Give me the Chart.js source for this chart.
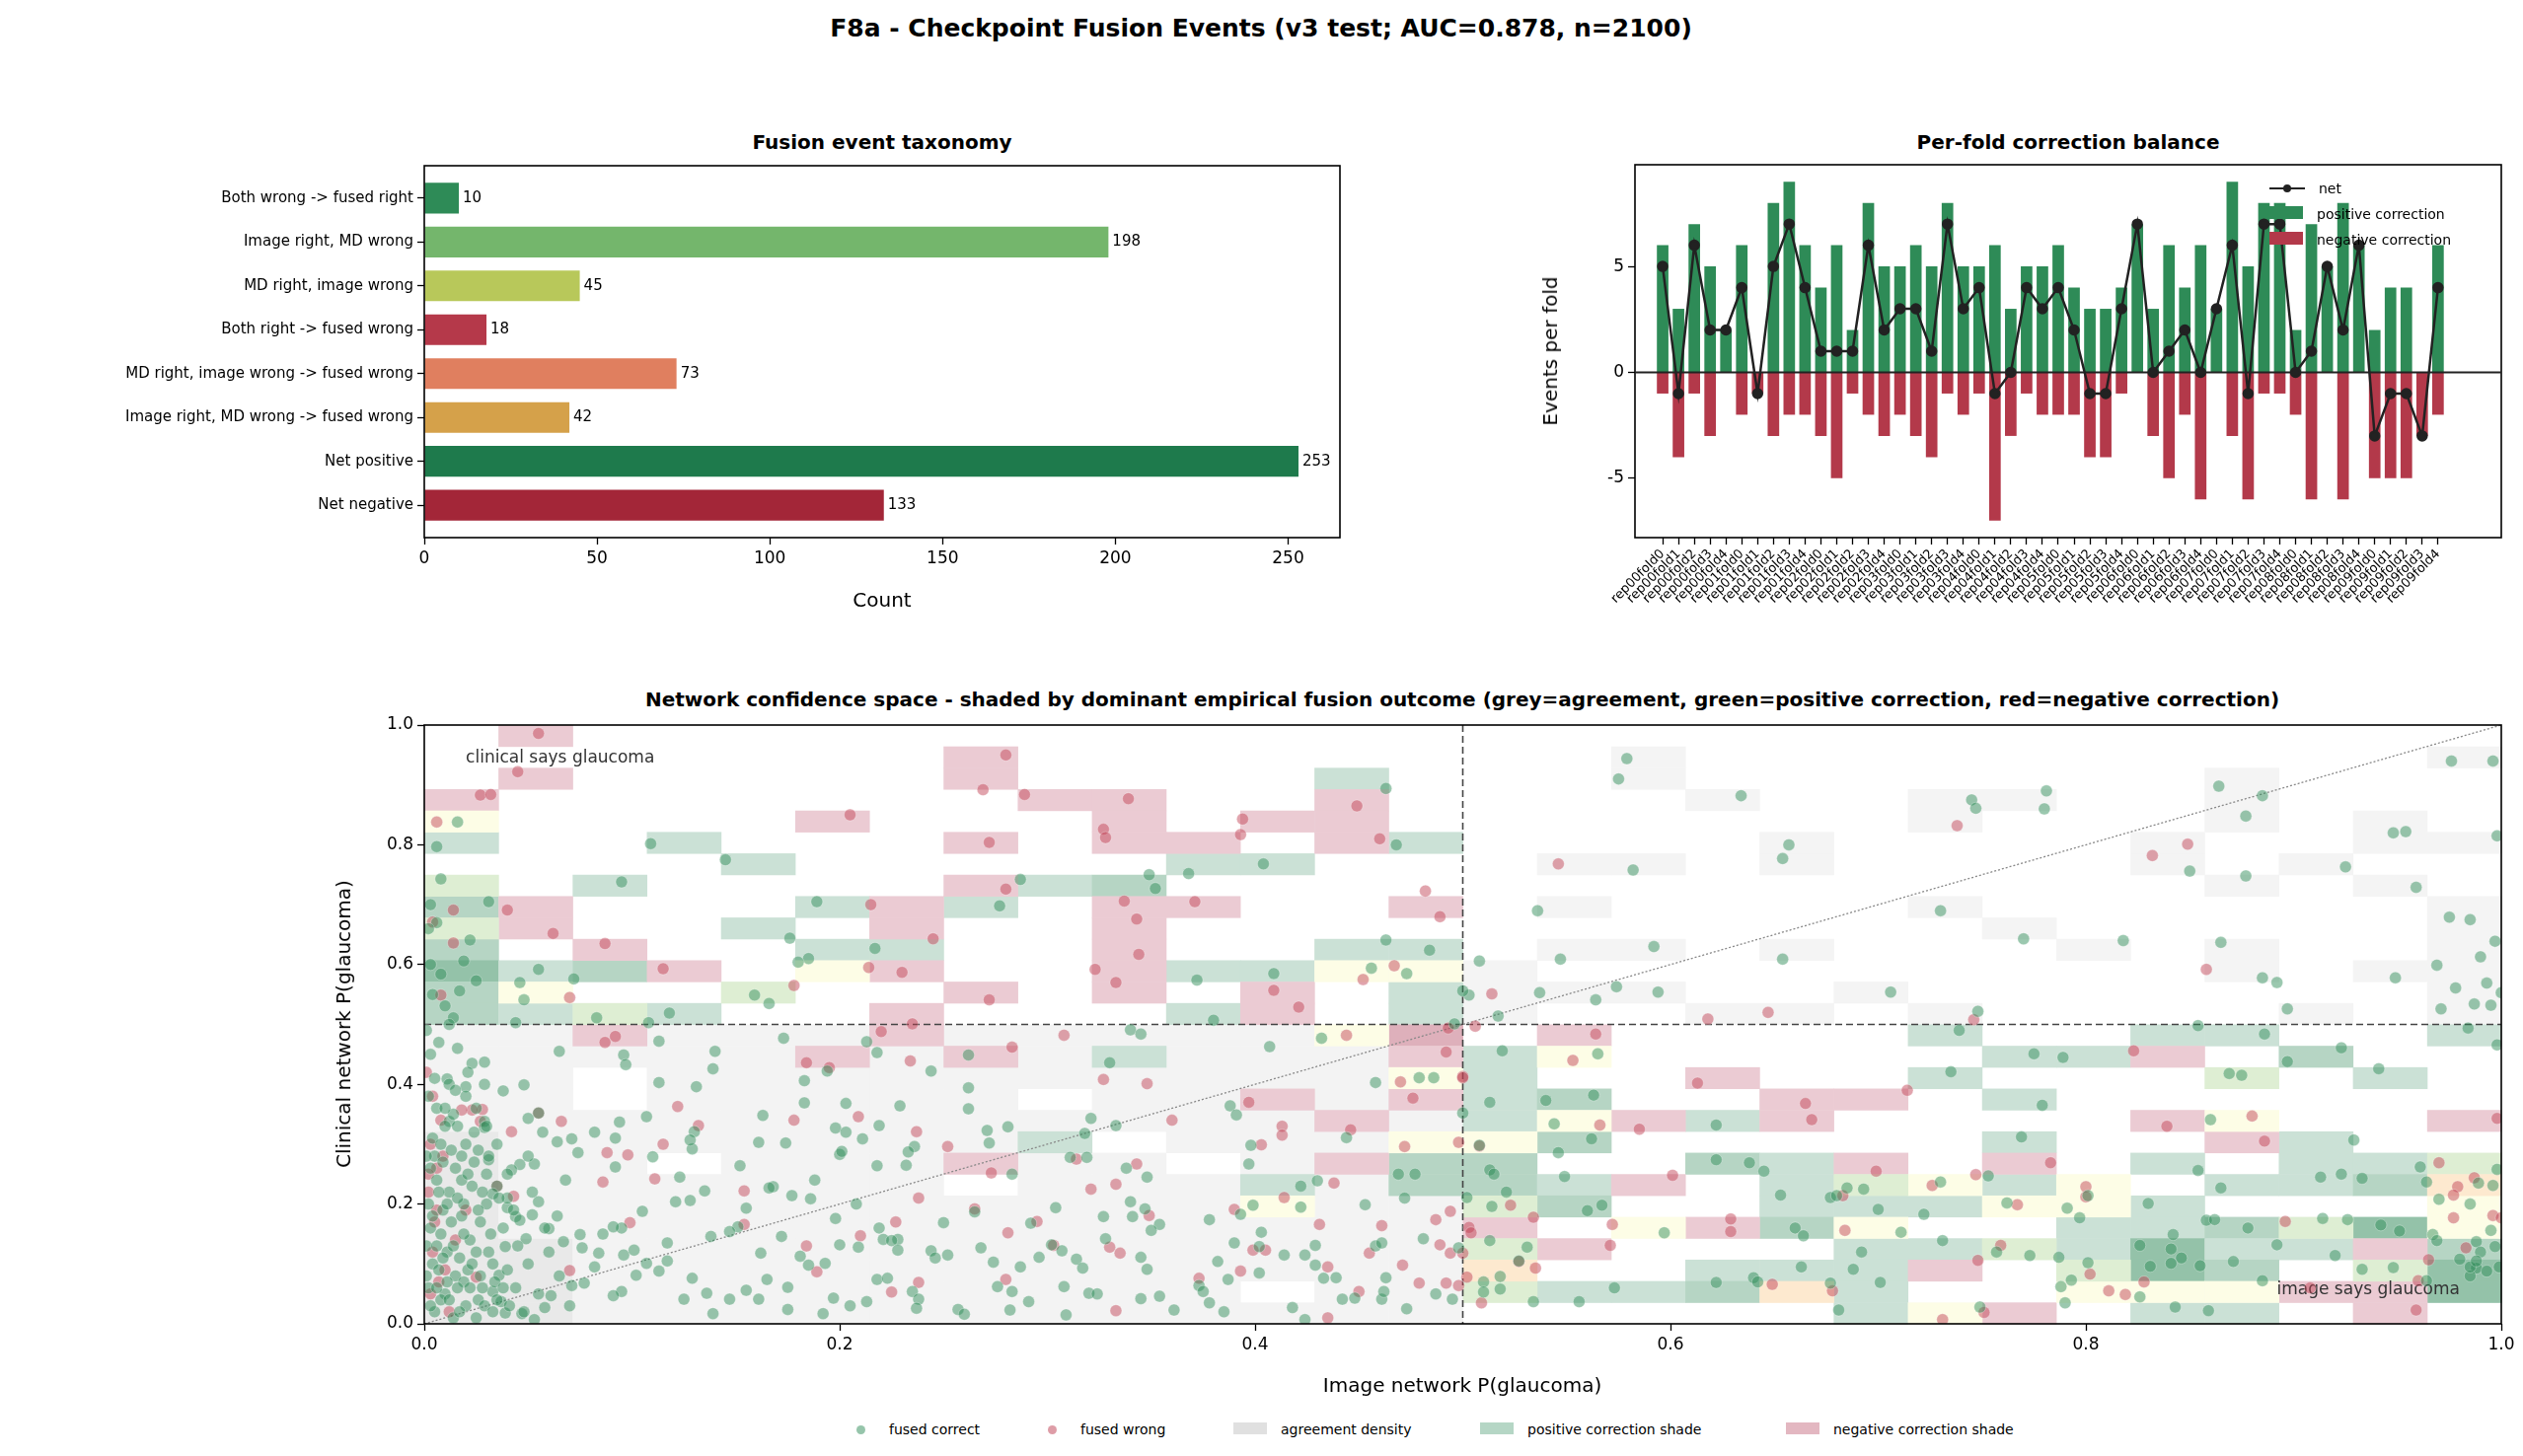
<!DOCTYPE html>
<html>
<head>
<meta charset="utf-8">
<script src="https://cdn.jsdelivr.net/npm/chart.js@4.4.1/dist/chart.umd.min.js"></script>
<style>
  body { margin: 0; background: #fff; font-family: "DejaVu Sans", sans-serif; }
  #wrap { position: relative; width: 2557px; height: 1476px; }
  .abs { position: absolute; }
  .ttl { position: absolute; font-weight: bold; color: #000; white-space: nowrap; transform: translateX(-50%); }
  .ax { position: absolute; font-size: 20px; color: #000; white-space: nowrap; transform: translate(-50%, -50%); }
  .axv { position: absolute; font-size: 20px; color: #000; white-space: nowrap; transform: translate(-50%, -50%) rotate(-90deg); }
  .lg { position: absolute; font-size: 14px; color: #000; white-space: nowrap; }
</style>
</head>
<body>
<div id="wrap">
  <div class="ttl" style="left:1278px; top:14px; font-size:25px;">F8a - Checkpoint Fusion Events (v3 test; AUC=0.878, n=2100)</div>
  <div class="ttl" style="left:894px; top:132px; font-size:20px;">Fusion event taxonomy</div>
  <div class="ttl" style="left:2096px; top:132px; font-size:20px;">Per-fold correction balance</div>
  <div class="ttl" style="left:1482px; top:697px; font-size:20px;">Network confidence space - shaded by dominant empirical fusion outcome (grey=agreement, green=positive correction, red=negative correction)</div>
  <canvas id="c1" class="abs" style="left:0; top:120px;"></canvas>
  <canvas id="c2" class="abs" style="left:1500px; top:120px;"></canvas>
  <canvas id="c3" class="abs" style="left:0; top:690px;"></canvas>
  <div class="ax" style="left:894px; top:608px;">Count</div>
  <div class="axv" style="left:1571px; top:356px;">Events per fold</div>
  <div class="ax" style="left:1482px; top:1404px;">Image network P(glaucoma)</div>
  <div class="axv" style="left:348px; top:1038px;">Clinical network P(glaucoma)</div>
  <div class="lg" style="left:2300px; top:183px; font-size:14px;">
    <div style="height:26px;"><span style="display:inline-block;width:36px;border-top:2px solid #222;position:relative;top:-4px;"></span><span style="display:inline-block;width:8px;height:8px;border-radius:4px;background:#222;margin-left:-22px;position:relative;top:-1px;"></span><span style="margin-left:28px;">net</span></div>
    <div style="height:26px;"><span style="display:inline-block;width:34px;height:13px;background:#2e8b57;"></span><span style="margin-left:14px;">positive correction</span></div>
    <div style="height:26px;"><span style="display:inline-block;width:34px;height:13px;background:#b3394a;"></span><span style="margin-left:14px;">negative correction</span></div>
  </div>
  <div class="lg" style="left:868px; top:1441px;"><span style="display:inline-block;width:9px;height:9px;border-radius:5px;background:rgba(46,139,87,0.5);"></span><span style="margin-left:24px;">fused correct</span></div>
  <div class="lg" style="left:1062px; top:1441px;"><span style="display:inline-block;width:9px;height:9px;border-radius:5px;background:rgba(190,60,80,0.5);"></span><span style="margin-left:24px;">fused wrong</span></div>
  <div class="lg" style="left:1250px; top:1441px;"><span style="display:inline-block;width:34px;height:12px;background:#e0e0e0;"></span><span style="margin-left:14px;">agreement density</span></div>
  <div class="lg" style="left:1500px; top:1441px;"><span style="display:inline-block;width:34px;height:12px;background:#b5d6c5;"></span><span style="margin-left:14px;">positive correction shade</span></div>
  <div class="lg" style="left:1810px; top:1441px;"><span style="display:inline-block;width:34px;height:12px;background:#e3b7c1;"></span><span style="margin-left:14px;">negative correction shade</span></div>
</div>
<script>
// ---- data ----
const taxonomyLabels = ['Both wrong -> fused right', 'Image right, MD wrong', 'MD right, image wrong', 'Both right -> fused wrong',
  'MD right, image wrong -> fused wrong', 'Image right, MD wrong -> fused wrong', 'Net positive', 'Net negative'];
const taxonomyCounts = [10, 198, 45, 18, 73, 42, 253, 133];
const taxonomyColors = ['#2e8b57', '#74b66c', '#b8c85a', '#b5394a', '#e07f5f', '#d5a14a', '#1e7a4c', '#a32638'];
const countTicks = [0, 50, 100, 150, 200, 250];

const foldLabels = [];
for (let r = 0; r < 10; r++) for (let f = 0; f < 5; f++) foldLabels.push('rep0' + r + 'fold' + f);
const foldPositive = [6,3,7,5,2,6,0,8,9,6,4,6,2,8,5,5,6,5,8,5,5,6,3,5,5,
                      6,4,3,3,4,7,3,6,4,6,3,9,5,8,8,2,7,5,8,6,2,4,4,0,6];
const foldNegative = [-1,-4,-1,-3,0,-2,-1,-3,-2,-2,-3,-5,-1,-2,-3,-2,-3,-4,-1,-2,-1,-7,-3,-1,-2,
                      -2,-2,-4,-4,-1,0,-3,-5,-2,-6,0,-3,-6,-1,-1,-2,-6,0,-6,0,-5,-5,-5,-3,-2];
const foldNet = [5,-1,6,2,2,4,-1,5,7,4,1,1,1,6,2,3,3,1,7,3,4,-1,0,4,3,
                 4,2,-1,-1,3,7,0,1,2,0,3,6,-1,7,7,0,1,5,2,6,-3,-1,-1,-3,4];
const foldTicks = [-5, 0, 5];

// heatmap cells: [col, row, level] on a 28 x 28 grid of (image P, clinical P)
const gridBins = 28;
const posCells = [
  [20,13,1],[23,13,1],[24,13,1],[27,13,1],[14,12,1],[21,12,1],[22,12,1],[25,12,2],[14,11,1],[20,11,1],[26,11,1],
  [14,10,1],[15,10,2],[21,10,1],[14,9,1],[17,9,1],[15,8,2],[21,8,1],[25,8,1],[14,7,2],[17,7,2],[18,7,1],[23,7,1],[25,7,1],[26,7,1],
  [14,6,2],[15,6,1],[18,6,1],[21,6,1],[24,6,1],[25,6,1],[26,6,2],[15,5,2],[18,5,1],[19,5,1],[20,5,1],[23,5,1],
  [18,4,2],[22,4,1],[23,4,1],[24,4,2],[26,4,3],[19,3,1],[20,3,1],[22,3,1],[23,3,3],[24,3,1],[25,3,1],[27,3,2],
  [17,2,1],[18,2,1],[19,2,1],[23,2,3],[24,2,2],[27,2,3],[15,1,1],[16,1,1],[17,1,2],[19,1,1],[27,1,3],[19,0,1],[23,0,1],[24,0,1],
  [12,25,1],[0,22,1],[3,22,1],[13,22,1],[4,21,1],[10,21,1],[11,21,1],[2,20,1],[8,20,1],[9,20,2],[0,19,2],[5,19,1],[7,19,1],
  [4,18,1],[0,17,2],[5,17,1],[6,17,1],[12,17,1],[13,17,1],[0,16,3],[1,16,1],[2,16,2],[10,16,1],[11,16,1],[0,15,2],[13,15,1],
  [0,14,2],[1,14,1],[3,14,1],[10,14,1],[13,14,1],[9,12,1],[8,8,1],[13,7,2],[11,6,1],[13,6,2]
];
const negCells = [
  [15,13],[23,12],[17,11],[18,10],[19,10],[16,9],[18,9],[23,9],[27,9],[24,8],[19,7],[21,7],[16,6],[14,4],[17,4],[15,3],[26,3],
  [20,2],[25,1],[26,1],[21,0],[26,0],
  [1,27],[1,25],[7,25],[7,26],[0,24],[8,24],[9,24],[12,24],[5,23],[9,23],[11,23],[12,23],[7,22],[9,22],[10,22],[12,22],
  [7,20],[1,19],[6,19],[9,19],[10,19],[13,19],[1,18],[6,18],[9,18],[2,17],[9,17],[3,16],[6,16],[9,16],[7,15],[9,15],[11,15],
  [6,14],[11,14],[2,13],[6,13],[13,13],[5,12],[7,12],[13,12],[11,10],[13,10],[12,9],[7,7],[12,7]
];
const mixCells = [
  [15,12],[15,9],[24,9],[14,8],[20,6],[22,6],[21,5],[22,5],[27,5],[16,4],[19,4],[27,4],[22,1],[23,1],[24,1],[20,0],
  [0,23],[5,16],[12,16],[13,16],[1,15],[12,13],[13,11],[13,8],[11,5]
];
const lightGreenCells = [[24,11],[27,7],[19,6],[14,5],[25,4],[14,3],[21,3],[22,2],[26,2],[14,1],[0,20],[0,18],[4,15],[2,14]];
const orangeCells = [[27,6],[14,2],[18,1]];
const agreeCells = [
  [16,26],[27,26],[16,25],[24,25],[17,24],[20,24],[21,24],[24,24],[20,23],[24,23],[26,23],[18,22],[23,22],[26,22],[27,22],
  [15,21],[16,21],[18,21],[23,21],[25,21],[24,20],[26,20],[15,19],[20,19],[27,19],[21,18],[27,18],
  [15,17],[16,17],[18,17],[22,17],[24,17],[27,17],[14,16],[24,16],[26,16],[27,16],[14,15],[15,15],[16,15],[19,15],[27,15],
  [14,14],[17,14],[18,14],[20,14],[25,14],[27,14]
];
const agreeBlockCols = 14, agreeBlockRows = 14;   // lower-left agreement block
const blankCells = [[2,10],[2,11],[3,7],[7,6],[10,7],[8,10],[11,1],[9,8]];
const probTicks = [0, 0.2, 0.4, 0.6, 0.8, 1.0];

const fusedCorrect = [
  [.579,.944],[.575,.91],[.634,.882],[.745,.875],[.747,.861],[.781,.89],[.780,.86],[.864,.898],[.885,.882],[.877,.848],[.976,.94],[.996,.94],
  [.657,.80],[.654,.777],[.582,.758],[.850,.756],[.877,.748],[.925,.763],[.948,.82],[.954,.822],[.998,.815],[.959,.729],[.536,.69],[.730,.69],
  [.770,.643],[.818,.64],[.865,.637],[.592,.63],[.547,.609],[.654,.609],[.508,.606],[.975,.679],[.985,.675],[.997,.639],[.990,.613],[.969,.599],
  [.949,.578],[.885,.578],[.892,.570],[.978,.561],[.993,.569],[1.0,.553],[.503,.549],[.537,.553],[.574,.563],[.594,.554],[.564,.541],[.706,.554],
  [.517,.514],[.748,.522],[.897,.526],[.971,.526],[.987,.534],[.995,.532],[.854,.498],[.886,.484],[.984,.494],[.739,.490],[.998,.466],[.519,.456],
  [.565,.451],[.775,.451],[.789,.445],[.923,.461],[.897,.438],[.941,.426],[.735,.421],[.869,.418],[.875,.415],[.513,.370],[.540,.373],[.563,.382],
  [.779,.365],[.50,.352],[.544,.334],[.622,.332],[.860,.341],[.562,.309],[.769,.312],[.929,.307],[.508,.298],[.546,.286],[.622,.274],[.638,.269],
  [.513,.257],[.515,.25],[.549,.246],[.645,.255],[.854,.256],[.961,.262],[.913,.245],[.923,.250],[.933,.243],[.964,.237],[.996,.231],[.998,.258],
  [.753,.247],[.730,.237],[.685,.227],[.693,.225],[.865,.227],[.521,.22],[.653,.215],[.677,.211],[.680,.214],[.801,.214],[.989,.235],[.502,.211],
  [.514,.196],[.567,.198],[.560,.189],[.700,.191],[.722,.183],[.762,.202],[.791,.193],[.830,.201],[.985,.20],[.970,.208],[.797,.177],[.858,.173],
  [.862,.174],[.878,.160],[.914,.176],[.926,.174],[.942,.165],[.951,.155],[.967,.149],[.995,.156],[.597,.152],[.660,.160],[.664,.147],[.711,.153],
  [.513,.139],[.531,.128],[.731,.139],[.842,.149],[.969,.139],[.988,.137],[.892,.132],[.826,.131],[.841,.125],[.846,.110],[.997,.129],[.692,.120],
  [.757,.120],[.773,.114],[.787,.111],[.920,.114],[.990,.120],[.980,.108],[.871,.104],[.801,.102],[.527,.105],[.831,.096],[.841,.101],[.855,.097],
  [.933,.091],[.948,.094],[.988,.093],[.993,.088],[.985,.080],[.999,.095],[.663,.095],[.688,.091],[.518,.079],[.510,.070],[.793,.073],[.885,.072],
  [.964,.072],[.622,.069],[.640,.077],[.642,.070],[.677,.068],[.701,.069],[.573,.060],[.510,.053],[.518,.058],[.788,.062],[.826,.045],[.534,.037],
  [.556,.037],[.790,.035],[.681,.023],[.749,.028],[.843,.028],[.859,.022],[.985,.095],[.988,.105],
  [.006,.797],[.016,.838],[.008,.743],[.109,.802],[.145,.775],[.095,.738],[.189,.705],[.368,.752],[.404,.768],[.349,.750],[.352,.727],[.287,.742],
  [.277,.698],[.463,.894],[.468,.800],[.463,.641],[.484,.624],[.456,.594],[.473,.585],[.409,.585],[.372,.574],[.5,.556],[.380,.507],[.496,.501],
  [.217,.627],[.185,.610],[.180,.604],[.176,.644],[.159,.549],[.166,.535],[.118,.519],[.108,.503],[.055,.592],[.046,.570],[.048,.541],[.044,.503],
  [.072,.576],[.083,.511],[.031,.705],[.022,.641],[.019,.606],[.025,.573],[.017,.556],[.010,.531],[.014,.511],[.008,.584],[.006,.670],[.003,.700],
  [.113,.472],[.065,.455],[.096,.449],[.097,.433],[.140,.455],[.139,.426],[.173,.477],[.213,.471],[.218,.453],[.194,.422],[.244,.422],[.262,.449],
  [.330,.436],[.340,.491],[.345,.484],[.407,.463],[.432,.477],[.458,.403],[.486,.411],[.479,.411],[.113,.403],[.131,.396],[.048,.399],[.038,.389],
  [.020,.396],[.029,.400],[.011,.409],[.029,.437],[.023,.435],[.183,.406],[.183,.369],[.203,.368],[.229,.364],[.262,.394],[.262,.359],[.321,.343],
  [.333,.331],[.318,.318],[.388,.364],[.391,.349],[.281,.329],[.271,.323],[.272,.302],[.219,.331],[.198,.327],[.211,.309],[.203,.320],[.163,.348],
  [.174,.302],[.161,.303],[.129,.292],[.130,.321],[.128,.307],[.107,.346],[.082,.320],[.092,.310],[.071,.309],[.064,.304],[.094,.337],[.050,.343],
  [.055,.352],[.012,.338],[.029,.338],[.029,.328],[.031,.274],[.046,.266],[.053,.267],[.074,.286],[.092,.262],[.110,.279],[.123,.245],[.135,.222],
  [.152,.264],[.168,.229],[.188,.240],[.200,.283],[.201,.288],[.218,.264],[.232,.265],[.236,.296],[.233,.287],[.283,.250],[.311,.278],[.319,.278],
  [.338,.260],[.348,.245],[.397,.267],[.398,.298],[.444,.311],[.469,.250],[.477,.250],[.472,.210],[.430,.239],[.422,.230],[.453,.199],[.422,.195],
  [.399,.198],[.378,.174],[.393,.183],[.403,.153],[.340,.204],[.347,.192],[.327,.179],[.341,.179],[.354,.166],[.350,.156],[.304,.194],[.292,.168],
  [.265,.187],[.250,.169],[.219,.160],[.221,.141],[.228,.141],[.208,.200],[.198,.176],[.186,.209],[.177,.214],[.166,.227],[.155,.193],[.151,.162],
  [.147,.154],[.138,.146],[.128,.206],[.121,.204],[.117,.135],[.105,.188],[.095,.160],[.091,.162],[.086,.150],[.075,.149],[.064,.180],[.060,.159],
  [.055,.204],[.052,.182],[.044,.179],[.040,.194],[.042,.257],[.035,.230],[.033,.217],[.040,.210],[.046,.173],[.049,.142],[.039,.129],[.067,.137],
  [.076,.127],[.084,.118],[.096,.115],[.101,.123],[.107,.101],[.117,.105],[.113,.088],[.102,.081],[.095,.054],[.091,.047],[.082,.095],[.077,.068],
  [.071,.064],[.061,.047],[.058,.027],[.047,.017],[.039,.018],[.053,.007],[.037,.037],[.033,.054],[.036,.081],[.125,.041],[.129,.076],[.136,.051],
  [.139,.017],[.147,.041],[.155,.056],[.161,.041],[.162,.118],[.165,.074],[.172,.146],[.175,.061],[.175,.024],[.181,.113],[.185,.098],[.193,.101],
  [.192,.017],[.197,.043],[.200,.132],[.205,.030],[.209,.128],[.213,.037],[.218,.074],[.223,.076],[.225,.139],[.228,.123],[.235,.054],[.238,.041],
  [.237,.026],[.244,.122],[.246,.110],[.252,.115],[.257,.024],[.260,.016],[.268,.127],[.274,.103],[.276,.062],[.282,.023],[.283,.054],[.287,.095],
  [.291,.037],[.296,.111],[.308,.062],[.309,.015],[.302,.132],[.307,.122],[.314,.108],[.317,.093],[.320,.051],[.324,.050],[.328,.142],[.345,.111],
  [.345,.042],[.348,.091],[.354,.046],[.361,.023],[.373,.064],[.375,.054],[.378,.035],[.382,.104],[.385,.020],[.387,.074],[.390,.135],[.402,.129],
  [.402,.085],[.414,.115],[.418,.027],[.424,.007],[.424,.115],[.429,.131],[.429,.098],[.433,.076],[.439,.077],[.442,.041],[.448,.043],[.458,.130],
  [.461,.135],[.461,.041],[.462,.054],[.463,.077],[.473,.025],[.481,.142],[.487,.050],[.495,.041],[.498,.127],
  [.005,.02],[.01,.05],[.015,.08],[.02,.03],[.025,.12],[.008,.15],[.018,.18],[.012,.22],[.03,.25],[.005,.28],[.02,.3],[.01,.33],[.028,.06],
  [.033,.1],[.022,.14],[.004,.1],[.015,.26],[.03,.2],[.006,.36],[.012,.4],[.02,.38],[.003,.45],[.008,.04],[.025,.01],[.035,.04],[.04,.09],
  [.045,.13],[.038,.16],[.03,.33],[.002,.2],[.017,.11],[.027,.17],[.009,.19],[.023,.23],[.013,.29],[.031,.28],[.004,.31],[.019,.07],[.036,.21],
  [.011,.12],[.002,.06],[.007,.09],[.014,.01],[.021,.09],[.026,.04],[.032,.15],[.006,.24],[.016,.33],[.024,.27],[.003,.16],[.013,.17],[.019,.2],
  [.028,.22],[.009,.27],[.001,.13],[.022,.06],[.017,.02],[.034,.07],[.041,.03],[.044,.06],[.05,.1],[.048,.02],[.055,.05],[.06,.12],[.065,.08],
  [.07,.03],[.058,.16],[.052,.22],[.068,.24],[.006,.13],[.011,.07],[.026,.19],[.018,.24],[.008,.3],[.014,.35],[.002,.38],[.021,.42],[.001,.49],
  [.004,.55],[.003,.6],[.002,.66],[.007,.47],[.016,.46],[.012,.5],[.001,.28],[.024,.32],[.035,.3],[.04,.25],[.043,.19],[.05,.28],[.057,.32],
  [.003,.03],[.006,.06],[.012,.04],[.016,.06],[.009,.11],[.014,.13],[.019,.15],[.023,.1],[.027,.08],[.031,.12],[.004,.18],[.011,.2],[.016,.21],
  [.021,.25],[.026,.29],[.007,.22],[.003,.26],[.018,.28],[.01,.36],[.005,.41],[.015,.39],[.025,.36],[.001,.08],[.029,.03],[.033,.02],[.038,.06]
];
const fusedWrong = [
  [.738,.832],[.546,.768],[.849,.801],[.832,.782],[.858,.592],[.514,.551],[.618,.509],[.647,.520],[.746,.508],[.506,.497],[.564,.484],[.823,.456],
  [.553,.440],[.50,.413],[.613,.402],[.714,.390],[.665,.368],[.668,.341],[.880,.347],[.585,.325],[.566,.332],[.839,.330],[.998,.343],[.886,.305],
  [.508,.297],[.783,.269],[.699,.255],[.601,.248],[.970,.269],[.979,.229],[.987,.244],[.977,.215],[.747,.249],[.726,.231],[.683,.214],[.800,.229],
  [.800,.212],[.523,.198],[.767,.199],[.977,.177],[.996,.181],[1.0,.177],[.534,.178],[.503,.161],[.504,.152],[.629,.175],[.629,.154],[.572,.166],
  [.684,.156],[.896,.171],[.571,.131],[.759,.131],[.50,.118],[.527,.104],[.535,.093],[.748,.106],[.965,.107],[.983,.127],[.802,.083],[.828,.070],
  [.502,.078],[.960,.072],[.649,.066],[.678,.055],[.811,.055],[.819,.049],[.908,.060],[.509,.035],[.959,.023],[.751,.019],[.731,.007],
  [.055,.986],[.045,.922],[.027,.883],[.032,.884],[.006,.838],[.280,.950],[.269,.892],[.289,.884],[.339,.877],[.327,.826],[.328,.812],[.394,.843],
  [.393,.817],[.449,.865],[.460,.810],[.205,.850],[.272,.804],[.280,.726],[.337,.706],[.343,.676],[.344,.617],[.323,.592],[.333,.570],[.371,.705],
  [.482,.723],[.489,.680],[.215,.700],[.245,.643],[.230,.587],[.214,.595],[.272,.541],[.178,.565],[.467,.598],[.452,.575],[.409,.557],[.421,.529],
  [.040,.691],[.062,.652],[.087,.635],[.070,.545],[.115,.593],[.014,.691],[.014,.636],[.004,.671],[.008,.549],[.235,.501],[.220,.488],[.087,.470],
  [.092,.480],[.283,.462],[.195,.428],[.184,.436],[.234,.439],[.308,.482],[.444,.482],[.493,.494],[.492,.454],[.500,.411],[.470,.404],[.476,.377],
  [.397,.370],[.327,.408],[.348,.401],[.360,.340],[.413,.330],[.413,.315],[.446,.324],[.403,.299],[.472,.296],[.498,.303],[.438,.235],[.414,.211],
  [.390,.191],[.431,.166],[.461,.164],[.487,.174],[.494,.188],[.489,.132],[.494,.118],[.471,.098],[.455,.118],[.435,.095],[.479,.068],[.450,.054],
  [.492,.068],[.498,.064],[.435,.010],[.399,.123],[.405,.123],[.393,.088],[.373,.076],[.343,.267],[.314,.275],[.321,.225],[.333,.233],[.349,.181],
  [.330,.128],[.335,.118],[.333,.022],[.303,.131],[.295,.171],[.280,.074],[.281,.152],[.265,.192],[.273,.252],[.252,.296],[.238,.210],[.237,.321],
  [.227,.170],[.225,.053],[.238,.069],[.210,.147],[.209,.346],[.178,.340],[.189,.087],[.184,.130],[.154,.222],[.154,.166],[.132,.331],[.122,.363],
  [.115,.300],[.111,.242],[.098,.282],[.088,.286],[.086,.237],[.099,.169],[.066,.338],[.055,.352],[.042,.321],[.028,.358],[.023,.357],[.018,.357],
  [.027,.338],[.035,.230],[.043,.213],[.070,.089],[.025,.078],
  [.003,.05],[.004,.12],[.005,.17],[.002,.22],[.006,.26],[.003,.3],[.008,.34],[.01,.09],[.012,.02],[.004,.38],[.015,.14],[.02,.19],[.007,.07],
  [.009,.28],[.001,.42],[.002,.25],[.006,.19]
];

// ---- helpers ----
function sizeCanvas(id, w, h) {
  const c = document.getElementById(id);
  c.width = w; c.height = h; c.style.width = w + 'px'; c.style.height = h + 'px';
  return c.getContext('2d');
}
Chart.defaults.font.family = '"DejaVu Sans", sans-serif';
Chart.defaults.color = '#000';
Chart.defaults.animation = false;
Chart.defaults.responsive = false;
Chart.defaults.devicePixelRatio = 1;

const frame = {
  id: 'frame',
  afterDatasetsDraw(chart) {
    const a = chart.chartArea, g = chart.ctx;
    g.save(); g.strokeStyle = '#000'; g.lineWidth = 1.6;
    g.strokeRect(a.left, a.top, a.right - a.left, a.bottom - a.top); g.restore();
  }
};
const tickOpts = { color: '#000', tickLength: 7, tickWidth: 1.3, drawOnChartArea: false, tickColor: '#000', offset: false };
const fixTicks = list => function (s) { s.ticks = list.map(v => ({ value: v })); };

// ---- panel 1 ----
const taxIdx = taxonomyLabels.map((_, i) => i);
new Chart(sizeCanvas('c1', 1380, 520), {
  type: 'bar',
  data: { datasets: [{ data: taxIdx.map(i => ({ y: i, x: taxonomyCounts[i] })), backgroundColor: taxonomyColors, barPercentage: 0.7, categoryPercentage: 1 }] },
  options: {
    indexAxis: 'y',
    layout: { padding: { top: 48, right: 22, left: 0, bottom: 0 } },
    plugins: { legend: { display: false }, tooltip: { enabled: false } },
    scales: {
      x: { min: 0, max: 265, afterBuildTicks: fixTicks(countTicks), ticks: { font: { size: 17 }, padding: 4 }, grid: tickOpts, border: { display: false },
           afterFit(s) { s.height = 95; } },
      y: { type: 'linear', reverse: true, offset: false, min: -0.74, max: 7.74, afterBuildTicks: fixTicks(taxIdx),
           ticks: { font: { size: 15 }, padding: 4, callback: v => taxonomyLabels[v] }, grid: tickOpts, border: { display: false },
           afterFit(s) { s.width = 430; } }
    }
  },
  plugins: [frame, {
    id: 'vals',
    afterDatasetsDraw(chart) {
      const g = chart.ctx, meta = chart.getDatasetMeta(0);
      g.save(); g.font = '15px "DejaVu Sans"'; g.fillStyle = '#000'; g.textBaseline = 'middle';
      meta.data.forEach((b, i) => g.fillText(taxonomyCounts[i], b.x + 4, b.y));
      g.restore();
    }
  }]
});

// ---- panel 2 ----
const foldIdx = foldLabels.map((_, i) => i);
const zeroLine = chart => {
  const a = chart.chartArea, g = chart.ctx, y = chart.scales.y.getPixelForValue(0);
  g.save(); g.strokeStyle = '#222'; g.lineWidth = 1.8; g.beginPath(); g.moveTo(a.left, y); g.lineTo(a.right, y); g.stroke(); g.restore();
};
new Chart(sizeCanvas('c2', 1057, 580), {
  type: 'bar',
  data: {
    datasets: [
      { type: 'line', data: foldIdx.map(i => ({ x: i, y: foldNet[i] })), borderColor: '#222', backgroundColor: '#222', borderWidth: 2.5, pointRadius: 4.5, order: 0 },
      { data: foldIdx.map(i => ({ x: i, y: foldPositive[i] })), backgroundColor: '#2e8b57', barPercentage: 0.73, categoryPercentage: 1, order: 2 },
      { data: foldIdx.map(i => ({ x: i, y: foldNegative[i] })), backgroundColor: '#b3394a', barPercentage: 0.73, categoryPercentage: 1, order: 2 }
    ]
  },
  options: {
    layout: { padding: { top: 47, right: 22, left: 0, bottom: 0 } },
    plugins: { legend: { display: false }, tooltip: { enabled: false } },
    datasets: { bar: { grouped: false } },
    scales: {
      x: { type: 'linear', offset: false, min: -1.75, max: 53.0, afterBuildTicks: fixTicks(foldIdx),
           ticks: { autoSkip: false, maxRotation: 45, minRotation: 45, font: { size: 13 }, padding: 2, callback: v => foldLabels[v] },
           grid: tickOpts, border: { display: false }, afterFit(s) { s.height = 155; } },
      y: { min: -7.8, max: 9.8, afterBuildTicks: fixTicks(foldTicks),
           ticks: { font: { size: 17 }, padding: 4 }, grid: tickOpts, border: { display: false },
           afterFit(s) { s.width = 157; } }
    }
  },
  plugins: [frame, { id: 'zero', afterDraw: zeroLine }]
});

// ---- panel 3 ----
const heat = {
  id: 'heat',
  beforeDatasetsDraw(chart) {
    const g = chart.ctx, xs = chart.scales.x, ys = chart.scales.y;
    const cell = (c, r, col) => {
      const x0 = xs.getPixelForValue(c / gridBins), x1 = xs.getPixelForValue((c + 1) / gridBins);
      const y0 = ys.getPixelForValue((r + 1) / gridBins), y1 = ys.getPixelForValue(r / gridBins);
      g.fillStyle = col; g.fillRect(x0, y0, x1 - x0 + 0.5, y1 - y0 + 0.5);
    };
    const taken = new Set();
    [...posCells, ...negCells, ...mixCells, ...lightGreenCells, ...orangeCells, ...blankCells].forEach(p => taken.add(p[0] + ',' + p[1]));
    g.save();
    for (let c = 0; c < agreeBlockCols; c++) for (let r = 0; r < agreeBlockRows; r++) {
      if (taken.has(c + ',' + r)) continue;
      const dark = (c === 0 && r < 9) || (c === 1 && r < 4);
      cell(c, r, dark ? '#e9e9e9' : '#f3f3f3');
    }
    agreeCells.forEach(p => cell(p[0], p[1], '#f4f4f4'));
    const posCol = ['', '#cbe1d6', '#b6d5c4', '#94c2a9'];
    posCells.forEach(p => cell(p[0], p[1], posCol[p[2]]));
    negCells.forEach(p => cell(p[0], p[1], (p[0] === 13 && p[1] === 13) ? '#deb0bb' : '#ebcbd3'));
    mixCells.forEach(p => cell(p[0], p[1], '#fdfde6'));
    lightGreenCells.forEach(p => cell(p[0], p[1], '#deeed3'));
    orangeCells.forEach(p => cell(p[0], p[1], '#fde9cf'));
    // reference lines
    const a = chart.chartArea;
    g.strokeStyle = '#444'; g.lineWidth = 1.6; g.setLineDash([7, 4]);
    const x5 = xs.getPixelForValue(0.5), y5 = ys.getPixelForValue(0.5);
    g.beginPath(); g.moveTo(x5, a.top); g.lineTo(x5, a.bottom); g.moveTo(a.left, y5); g.lineTo(a.right, y5); g.stroke();
    g.strokeStyle = '#888'; g.lineWidth = 1.3; g.setLineDash([2, 2]);
    g.beginPath(); g.moveTo(xs.getPixelForValue(0), ys.getPixelForValue(0)); g.lineTo(xs.getPixelForValue(1), ys.getPixelForValue(1)); g.stroke();
    g.setLineDash([]);
    g.font = '17px "DejaVu Sans"'; g.fillStyle = '#333'; g.textBaseline = 'middle';
    g.fillText('clinical says glaucoma', xs.getPixelForValue(0.02), ys.getPixelForValue(0.945));
    g.textAlign = 'right';
    g.fillText('image says glaucoma', xs.getPixelForValue(0.98), ys.getPixelForValue(0.057));
    g.restore();
  }
};
new Chart(sizeCanvas('c3', 2557, 740), {
  type: 'scatter',
  data: {
    datasets: [
      { data: fusedCorrect.map(p => ({ x: p[0], y: p[1] })), backgroundColor: 'rgba(46,139,87,0.48)', borderColor: 'rgba(255,255,255,0.5)', borderWidth: 0.6, pointRadius: 6 },
      { data: fusedWrong.map(p => ({ x: p[0], y: p[1] })), backgroundColor: 'rgba(192,64,84,0.48)', borderColor: 'rgba(255,255,255,0.5)', borderWidth: 0.6, pointRadius: 6 }
    ]
  },
  options: {
    layout: { padding: { top: 45, right: 22, left: 0, bottom: 0 } },
    plugins: { legend: { display: false }, tooltip: { enabled: false } },
    scales: {
      x: { min: 0, max: 1, afterBuildTicks: fixTicks(probTicks), ticks: { font: { size: 17 }, padding: 4, callback: v => v.toFixed(1) },
           grid: tickOpts, border: { display: false }, afterFit(s) { s.height = 88; } },
      y: { min: 0, max: 1, afterBuildTicks: fixTicks(probTicks), ticks: { font: { size: 17 }, padding: 4, callback: v => v.toFixed(1) },
           grid: tickOpts, border: { display: false }, afterFit(s) { s.width = 430; } }
    }
  },
  plugins: [heat, frame]
});
</script>
</body>
</html>
